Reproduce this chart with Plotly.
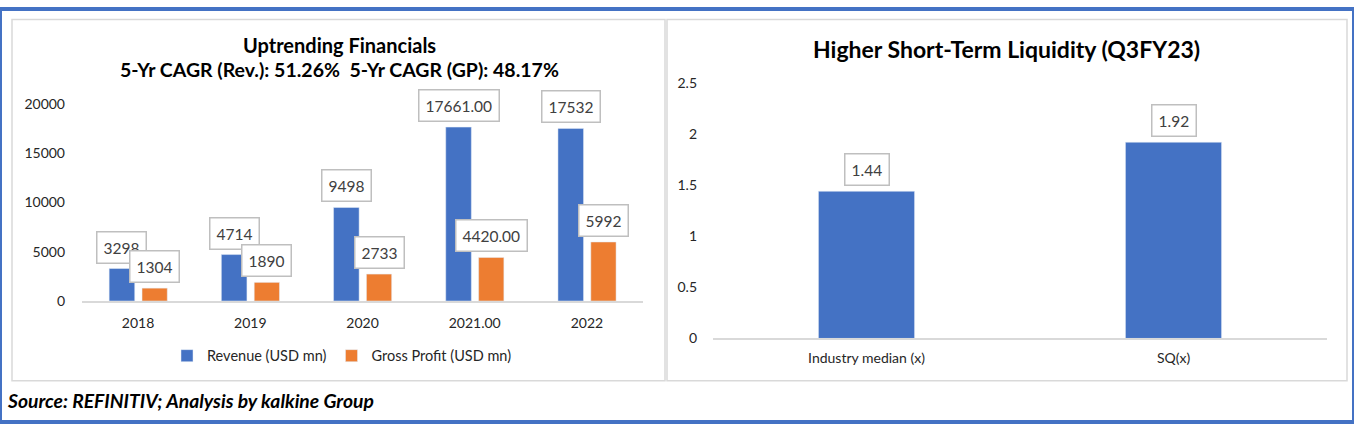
import plotly.graph_objects as go

# ---------------- data ----------------
years = ["2018", "2019", "2020", "2021.00", "2022"]
revenue = [3298, 4714, 9498, 17661, 17532]
gross_profit = [1304, 1890, 2733, 4420, 5992]
revenue_labels = ["3298", "4714", "9498", "17661.00", "17532"]
gp_labels = ["1304", "1890", "2733", "4420.00", "5992"]
left_yticks = [0, 5000, 10000, 15000, 20000]

liq_cats = ["Industry median (x)", "SQ(x)"]
liq_vals = [1.44, 1.92]
liq_labels = ["1.44", "1.92"]
right_yticks = [0, 0.5, 1, 1.5, 2, 2.5]

# ---------------- layout helpers ----------------
W, H = 1354, 430
BLUE = "#4472C4"
ORANGE = "#ED7D31"
FONT = "Lato"
TXT = "#262626"


def px(x):
    return x / W


def py(y):
    return 1 - y / H


fig = go.Figure()

rev_w, rev_off = 0.228, -0.258
gp_w, gp_off = 0.225, 0.035

fig.add_trace(go.Bar(x=years, y=revenue, name="Revenue (USD mn)", marker_color=BLUE,
                     width=rev_w, offset=rev_off, xaxis="x", yaxis="y"))
fig.add_trace(go.Bar(x=years, y=gross_profit, name="Gross Profit (USD mn)", marker_color=ORANGE,
                     width=gp_w, offset=gp_off, xaxis="x", yaxis="y"))
fig.add_trace(go.Bar(x=liq_cats, y=liq_vals, name="Liquidity", marker_color=BLUE,
                     width=0.313, offset=-0.1565, showlegend=False, xaxis="x2", yaxis="y2"))

annotations = []
lab_style = dict(showarrow=False, bgcolor="white", bordercolor="#BFBFBF", borderwidth=1.5,
                 borderpad=6, font=dict(family=FONT, size=15.5, color="#404040"),
                 xanchor="center", yanchor="bottom", yshift=5)
for i, (v, t) in enumerate(zip(revenue, revenue_labels)):
    annotations.append(dict(x=i + rev_off + rev_w / 2, y=v, text=t, xref="x", yref="y", **lab_style))
for i, (v, t) in enumerate(zip(gross_profit, gp_labels)):
    annotations.append(dict(x=i + gp_off + gp_w / 2, y=v, text=t, xref="x", yref="y", **lab_style))
for i, (v, t) in enumerate(zip(liq_vals, liq_labels)):
    annotations.append(dict(x=i, y=v, text=t, xref="x2", yref="y2", **lab_style))

title_common = dict(xref="paper", yref="paper", showarrow=False, xanchor="center", yanchor="middle")
annotations += [
    dict(x=px(339), y=py(38), text="<b>Uptrending Financials</b>",
         font=dict(family=FONT, size=20, color="black"), **title_common),
    dict(x=px(339), y=py(63), text="<b>5-Yr CAGR (Rev.): 51.26%  5-Yr CAGR (GP): 48.17%</b>",
         font=dict(family=FONT, size=19.5, color="black"), **title_common),
    dict(x=px(1006), y=py(42), text="<b>Higher Short-Term Liquidity (Q3FY23)</b>",
         font=dict(family=FONT, size=23, color="black"), **title_common),
    dict(x=px(5), y=py(408), xref="paper", yref="paper", showarrow=False, xanchor="left", yanchor="middle",
         text="<b><i>Source: REFINITIV; Analysis by kalkine Group</i></b>",
         font=dict(family=FONT, size=19.3, color="black")),
]

shapes = [
    dict(type="rect", xref="paper", yref="paper", x0=px(12), x1=px(665), y0=py(387), y1=py(11),
         line=dict(color="#D9D9D9", width=1.5)),
    dict(type="rect", xref="paper", yref="paper", x0=px(667), x1=px(1347), y0=py(387), y1=py(11),
         line=dict(color="#D9D9D9", width=1.5)),
    dict(type="rect", xref="paper", yref="paper", x0=0, x1=1, y0=0, y1=1,
         line=dict(color=BLUE, width=4)),
]

axis_font = dict(family=FONT, size=14, color=TXT)

fig.update_layout(
    width=W, height=H, autosize=False,
    margin=dict(l=0, r=0, t=0, b=0),
    paper_bgcolor="white", plot_bgcolor="white",
    barmode="overlay",
    font=dict(family=FONT, color=TXT),
    xaxis=dict(domain=[px(82), px(643)], type="category", showgrid=False, showline=True,
               linecolor="#D9D9D9", linewidth=1.5, ticks="", tickfont=axis_font,
               ticklabelstandoff=8, anchor="y"),
    yaxis=dict(domain=[py(304), py(99)], range=[0, 20000], tickvals=left_yticks,
               ticktext=[str(v) for v in left_yticks],
               showgrid=False, showline=False, zeroline=False, ticks="", tickfont=axis_font,
               ticklabelstandoff=16, anchor="x"),
    xaxis2=dict(domain=[px(713), px(1327)], type="category", showgrid=False, showline=True,
                linecolor="#D9D9D9", linewidth=1.5, ticks="", tickfont=axis_font,
                ticklabelstandoff=6, anchor="y2"),
    yaxis2=dict(domain=[py(343), py(77)], range=[0, 2.5], tickvals=right_yticks,
                ticktext=[str(v) if v % 1 else str(int(v)) for v in right_yticks],
                showgrid=False, showline=False, zeroline=False, ticks="", tickfont=axis_font,
                ticklabelstandoff=15, anchor="x2"),
    legend=dict(orientation="h", x=px(342), xanchor="center", y=py(361), yanchor="middle",
                font=dict(family=FONT, size=14.5, color=TXT), traceorder="normal"),
    annotations=annotations,
    shapes=shapes,
)

fix_page = (
    "var s=document.createElement('style');"
    "s.textContent='html,body{margin:0!important;padding:0!important;overflow:hidden!important;}"
    ".plotly-graph-div{position:fixed!important;top:0!important;left:0!important;}';"
    "document.head.appendChild(s);window.scrollTo(0,0);"
)
fig.write_html("out.html", config={"displayModeBar": False}, post_script=fix_page)
